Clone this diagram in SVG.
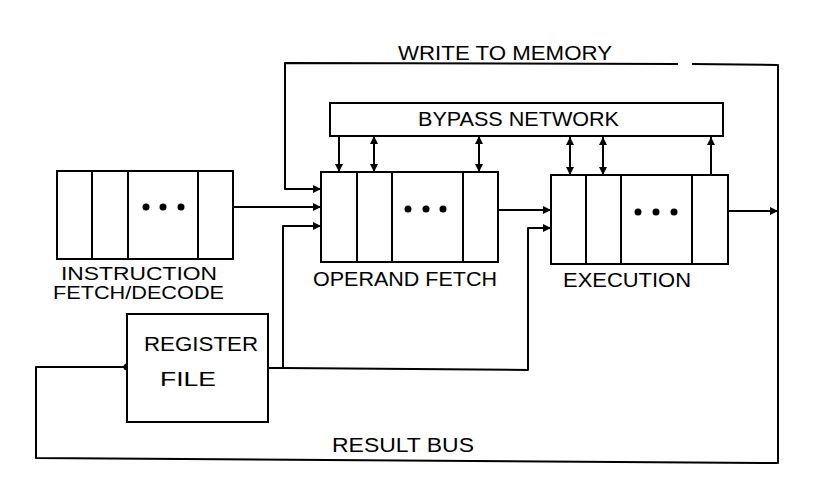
<svg xmlns="http://www.w3.org/2000/svg" width="824" height="480" viewBox="0 0 824 480">
<style>
.box{fill:#fff;stroke:#000;stroke-width:2}
.div{stroke:#000;stroke-width:2}
.ln{fill:none;stroke:#000;stroke-width:2;stroke-linejoin:round}
.t{font-family:"Liberation Sans",Arial,sans-serif;font-size:19.5px;fill:#000;text-anchor:start}
.ts{font-size:17.5px}
.dot{fill:#000}
</style>
<defs>
<marker id="ah" viewBox="0 0 10 10" refX="10" refY="5" markerUnits="userSpaceOnUse" markerWidth="8" markerHeight="8" orient="auto-start-reverse">
<path d="M0,0 L10,5 L0,10 z" fill="#000"/>
</marker>
</defs>
<rect width="824" height="480" fill="#fff"/>

<g id="connectors">
<path class="ln" d="M778,211 L778,65 L692,64 M678,64 L285,63 L285,189 L321,189" marker-end="url(#ah)"/>
<path class="ln" d="M778,211 L778,463 L36,458 L36,367 L127,367"/>
<circle class="dot" cx="127" cy="367" r="3.5"/>
<path class="ln" d="M728,211 L778,211" marker-end="url(#ah)"/>
<path class="ln" d="M233,207 L321,207" marker-end="url(#ah)"/>
<path class="ln" d="M268,368 L283,368 L283,226 L321,226" marker-end="url(#ah)"/>
<path class="ln" d="M283,368 L528,370 L528,228 L551,228" marker-end="url(#ah)"/>
<path class="ln" d="M498,210 L551,210" marker-end="url(#ah)"/>
<path class="ln" d="M339,136 L339,172" marker-end="url(#ah)"/>
<path class="ln" d="M374,136 L374,172" marker-start="url(#ah)" marker-end="url(#ah)"/>
<path class="ln" d="M479,136 L479,172" marker-start="url(#ah)" marker-end="url(#ah)"/>
<path class="ln" d="M570,137 L570,175" marker-start="url(#ah)" marker-end="url(#ah)"/>
<path class="ln" d="M603,137 L603,175" marker-start="url(#ah)" marker-end="url(#ah)"/>
<path class="ln" d="M711,175 L711,137" marker-end="url(#ah)"/>
<text class="t" x="398" y="60" textLength="214" lengthAdjust="spacingAndGlyphs">WRITE TO MEMORY</text>
<text class="t" x="332" y="452" textLength="142" lengthAdjust="spacingAndGlyphs">RESULT BUS</text>
</g>

<g id="bypass">
<rect class="box" x="330" y="103" width="393" height="33"/>
<text class="t" x="418" y="126" textLength="201" lengthAdjust="spacingAndGlyphs">BYPASS NETWORK</text>
</g>

<g id="instruction-fetch">
<rect class="box" x="57" y="171" width="176" height="88"/>
<line class="div" x1="92" y1="171" x2="92" y2="259"/>
<line class="div" x1="128" y1="171" x2="128" y2="259"/>
<line class="div" x1="198" y1="171" x2="198" y2="259"/>
<circle class="dot" cx="146" cy="207" r="3.5"/>
<circle class="dot" cx="163" cy="207" r="3.5"/>
<circle class="dot" cx="181" cy="207" r="3.5"/>
<text class="t ts" x="61" y="280" textLength="156" lengthAdjust="spacingAndGlyphs">INSTRUCTION</text>
<text class="t ts" x="53" y="299" textLength="171" lengthAdjust="spacingAndGlyphs">FETCH/DECODE</text>
</g>

<g id="operand-fetch">
<rect class="box" x="321" y="172" width="177" height="90"/>
<line class="div" x1="357" y1="172" x2="357" y2="262"/>
<line class="div" x1="392" y1="172" x2="392" y2="262"/>
<line class="div" x1="463" y1="172" x2="463" y2="262"/>
<circle class="dot" cx="408" cy="209" r="3.5"/>
<circle class="dot" cx="426" cy="209" r="3.5"/>
<circle class="dot" cx="443" cy="209" r="3.5"/>
<text class="t" x="313" y="286" textLength="184" lengthAdjust="spacingAndGlyphs">OPERAND FETCH</text>
</g>

<g id="execution">
<rect class="box" x="551" y="175" width="177" height="89"/>
<line class="div" x1="586" y1="175" x2="586" y2="264"/>
<line class="div" x1="621" y1="175" x2="621" y2="264"/>
<line class="div" x1="692" y1="175" x2="692" y2="264"/>
<circle class="dot" cx="638" cy="212" r="3.5"/>
<circle class="dot" cx="656" cy="212" r="3.5"/>
<circle class="dot" cx="674" cy="212" r="3.5"/>
<text class="t" x="563" y="287" textLength="128" lengthAdjust="spacingAndGlyphs">EXECUTION</text>
</g>

<g id="register-file">
<rect class="box" x="127" y="314" width="141" height="108"/>
<text class="t" x="144" y="351" textLength="114" lengthAdjust="spacingAndGlyphs">REGISTER</text>
<text class="t" x="160" y="386" textLength="56" lengthAdjust="spacingAndGlyphs">FILE</text>
</g>
</svg>
